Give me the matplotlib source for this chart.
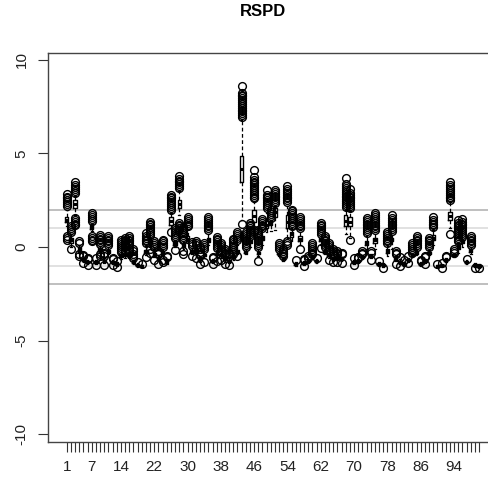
import numpy as np
import matplotlib
matplotlib.use("Agg")
import matplotlib.pyplot as plt

plt.rcParams['font.family'] = ['Liberation Sans', 'DejaVu Sans']

title = "RSPD"
positions = list(range(1, 101))
shown_labels = [1, 7, 14, 22, 30, 38, 46, 54, 62, 70, 78, 86, 94]
ref_lines = [2, 1, -1, -2]
ref_colors = ['#b4b4b4', '#dcdcdc', '#dcdcdc', '#b4b4b4']

# five-number summaries, one entry per box
whislo = [1.1, 0.0, 1.7, -0.3, -0.8, -0.9, 0.85, -0.9, -0.3, -0.85,
          -0.4, -0.9, -1.0, -0.65, -0.6, -0.6, -0.9, -1.05, -1.05, -0.45,
          0.0, -0.55, -0.75, -0.45, -0.9, 1.0, 0.0, 1.7, -0.1, 0.2,
          -0.4, -0.4, -0.8, -0.6, 0.1, -0.85, -0.55, -0.6, -0.8, -0.85,
          -0.7, -0.4, 1.45, -0.4, 0.0, 1.0, -0.5, 0.1, 0.8, 0.85,
          0.9, -0.5, -0.75, 0.5, 0.3, -1.0, 0.1, -0.95, -0.85, -0.65,
          -0.85, 0.1, -0.4, -0.6, -0.75, -0.7, -0.75, 0.7, 0.5, -0.9,
          -0.85, -0.65, -0.1, -0.6, -0.1, -1.0, -1.05, -0.5, -0.1, -0.75,
          -0.9, -1.0, -0.8, -0.55, -0.45, -1.0, -0.85, -0.45, 0.1, -1.1,
          -1.05, -0.8, 1.0, -0.55, -0.3, 0.0, -0.9, -0.35, -1.05, -1.1]

q1 = [1.35, 0.2, 2.1, -0.2, -0.75, -0.85, 0.95, -0.85, -0.2, -0.8,
      -0.3, -0.85, -0.95, -0.55, -0.5, -0.55, -0.85, -1.0, -1.02, -0.3,
      0.15, -0.45, -0.7, -0.35, -0.85, 1.2, 0.1, 2.1, 0.0, 0.3,
      -0.3, -0.3, -0.7, -0.5, 0.25, -0.8, -0.45, -0.5, -0.7, -0.8,
      -0.6, -0.3, 3.45, -0.3, 0.2, 1.35, -0.4, 0.4, 1.0, 1.2,
      1.6, -0.4, -0.7, 1.0, 0.55, -0.95, 0.3, -0.9, -0.8, -0.6,
      -0.8, 0.3, -0.3, -0.5, -0.7, -0.65, -0.7, 1.1, 1.1, -0.85,
      -0.8, -0.6, 0.1, -0.55, 0.2, -0.95, -1.0, -0.3, 0.3, -0.7,
      -0.85, -0.95, -0.75, -0.5, -0.35, -0.95, -0.8, -0.35, 0.37, -1.05,
      -1.0, -0.75, 1.45, -0.5, -0.1, 0.2, -0.85, -0.25, -1.0, -1.05]

med = [1.45, 0.35, 2.3, -0.1, -0.7, -0.8, 1.05, -0.8, -0.12, -0.75,
       -0.22, -0.8, -0.9, -0.45, -0.45, -0.5, -0.8, -0.96, -1.0, -0.22,
       0.25, -0.38, -0.65, -0.3, -0.78, 1.4, 0.2, 2.3, 0.05, 0.45,
       -0.22, -0.22, -0.65, -0.45, 0.35, -0.75, -0.4, -0.45, -0.65, -0.75,
       -0.55, -0.22, 4.15, -0.25, 0.3, 1.65, -0.32, 0.5, 1.2, 1.3,
       1.85, -0.35, -0.65, 1.35, 0.68, -0.9, 0.45, -0.85, -0.75, -0.55,
       -0.75, 0.4, -0.25, -0.45, -0.65, -0.6, -0.65, 1.4, 1.35, -0.8,
       -0.75, -0.55, 0.2, -0.5, 0.35, -0.9, -0.96, -0.2, 0.4, -0.65,
       -0.8, -0.9, -0.7, -0.45, -0.28, -0.9, -0.75, -0.3, 0.5, -1.0,
       -0.98, -0.7, 1.65, -0.45, 0.0, 0.28, -0.8, -0.18, -0.95, -1.0]

q3 = [1.6, 0.5, 2.5, 0.0, -0.65, -0.75, 1.15, -0.75, -0.05, -0.7,
      -0.15, -0.75, -0.85, -0.4, -0.4, -0.45, -0.75, -0.92, -0.97, -0.15,
      0.35, -0.3, -0.6, -0.2, -0.7, 1.6, 0.3, 2.5, 0.15, 0.6,
      -0.15, -0.15, -0.6, -0.4, 0.5, -0.7, -0.35, -0.4, -0.6, -0.7,
      -0.5, -0.15, 4.85, -0.2, 0.4, 2.0, -0.25, 0.6, 1.4, 1.4,
      2.1, -0.3, -0.6, 1.7, 0.8, -0.85, 0.6, -0.8, -0.7, -0.5,
      -0.7, 0.5, -0.2, -0.4, -0.6, -0.55, -0.6, 1.7, 1.6, -0.75,
      -0.7, -0.5, 0.3, -0.45, 0.5, -0.85, -0.92, -0.1, 0.5, -0.6,
      -0.75, -0.85, -0.65, -0.4, -0.2, -0.85, -0.7, -0.25, 0.65, -0.97,
      -0.95, -0.65, 1.87, -0.4, 0.1, 0.35, -0.75, -0.1, -0.9, -0.95]

whishi = [2.0, 0.7, 2.75, 0.1, -0.6, -0.7, 1.25, -0.7, 0.05, -0.6,
          0.0, -0.7, -0.8, -0.35, -0.35, -0.4, -0.7, -0.88, -0.95, 0.05,
          0.5, -0.1, -0.5, -0.1, -0.65, 1.8, 0.4, 3.0, 0.25, 0.9,
          -0.05, -0.05, -0.55, -0.3, 0.7, -0.65, -0.2, -0.3, -0.5, -0.6,
          -0.45, 0.1, 6.8, -0.1, 0.5, 2.4, -0.1, 0.9, 1.8, 1.45,
          2.2, -0.2, -0.55, 2.2, 1.0, -0.8, 0.9, -0.75, -0.65, -0.45,
          -0.65, 0.6, -0.1, -0.3, -0.55, -0.5, -0.55, 2.0, 1.9, -0.7,
          -0.65, -0.45, 0.6, -0.4, 0.8, -0.8, -0.88, 0.05, 0.75, -0.5,
          -0.65, -0.8, -0.6, -0.35, -0.1, -0.8, -0.65, -0.15, 0.9, -0.95,
          -0.9, -0.6, 2.4, -0.35, 0.2, 0.45, -0.7, 0.0, -0.85, -0.9]

fliers = [
    [2.2, 2.3, 2.4, 2.5, 2.6, 2.7, 2.85, 0.6, 0.5, 0.4],
    [0.8, 0.9, 1.0, 1.1, -0.1],
    [2.9, 3.0, 3.1, 3.2, 3.3, 3.45, 1.55, 1.45, 1.35, 1.25, 1.15],
    [0.2, 0.3, -0.4, -0.5],
    [-0.5, -0.45, -0.85],
    [-0.65, -0.6, -0.95],
    [1.4, 1.5, 1.6, 1.7, 1.8, 0.6, 0.5, 0.4, 0.3],
    [-0.6, -0.95],
    [0.15, 0.25, 0.35, 0.45, 0.55, 0.65, -0.4, -0.5],
    [-0.5, -0.4, -0.3, -0.95],
    [0.1, 0.2, 0.3, 0.4, 0.5, 0.6],
    [-0.6, -0.65, -0.95],
    [-0.75, -1.05],
    [-0.25, -0.15, -0.05, 0.05, 0.15, 0.25, 0.35],
    [-0.25, -0.15, 0.0, 0.1, 0.2, 0.3, 0.4, 0.5],
    [-0.3, -0.2, -0.1, 0.1, 0.2, 0.3, 0.4, 0.5, 0.6],
    [-0.6, -0.5, -0.4, -0.2, -0.1],
    [-0.8],
    [-0.9],
    [0.2, 0.3, 0.4, 0.5, 0.6, 0.75, -0.55],
    [0.65, 0.75, 0.85, 0.95, 1.05, 1.15, 1.25, 1.35, -0.1, -0.3],
    [0.0, 0.1, 0.2, 0.3, -0.7],
    [-0.4, -0.3, -0.2, -0.9],
    [0.0, 0.1, 0.2, 0.3, 0.4, -0.7, -0.8],
    [-0.55, -0.5],
    [2.0, 2.1, 2.2, 2.3, 2.4, 2.5, 2.6, 2.7, 2.8, 0.8],
    [0.5, 0.6, 0.7, 0.8, 0.9, 1.0, -0.15],
    [3.15, 3.25, 3.35, 3.45, 3.55, 3.65, 3.8, 1.3, 1.2, 1.1, 1.0, 0.9],
    [0.35, 0.45, 0.55, 0.65, 0.75, 0.85, 0.95, 1.05, -0.2, -0.4],
    [1.1, 1.2, 1.3, 1.4, 1.5, 1.6],
    [0.05, 0.15, 0.25, -0.5],
    [0.1, 0.2, 0.3, -0.6],
    [-0.45, -0.35, -0.25, -0.1, 0.0, -0.9],
    [-0.1, 0.0, 0.1, 0.2, -0.8],
    [0.9, 1.0, 1.1, 1.2, 1.3, 1.4, 1.5, 1.6],
    [-0.6, -0.55, -0.9],
    [-0.05, 0.05, 0.15, 0.25, 0.35, 0.45, 0.55, -0.75],
    [-0.2, -0.1, 0.0, 0.1, 0.2, -0.7],
    [-0.4, -0.3, -0.2, -0.1, -0.9],
    [-0.5, -0.4, -0.3, -0.95],
    [-0.35, -0.25, -0.15, -0.05, 0.05, 0.15, 0.25, 0.35, 0.45],
    [0.4, 0.5, 0.6, 0.7, 0.8, -0.5],
    [6.95, 7.05, 7.15, 7.25, 7.35, 7.45, 7.55, 7.65, 7.75, 7.85, 7.95,
     8.05, 8.15, 8.25, 8.6, 1.25],
    [0.0, 0.1, 0.2, 0.3, 0.4, 0.5, 0.6, 0.7, 0.8],
    [0.6, 0.7, 0.8, 0.9, 1.0, 1.1, 1.2, 1.3],
    [2.6, 2.7, 2.8, 2.9, 3.0, 3.1, 3.2, 3.3, 3.4, 3.5, 3.6, 3.75, 4.1, 0.9, 0.8],
    [0.0, 0.1, 0.2, 0.3, 0.4, 0.5, 0.6, 0.7, 0.8, 0.9, -0.75],
    [1.0, 1.1, 1.2, 1.3, 1.4, 1.5],
    [2.1, 2.2, 2.3, 2.4, 2.5, 2.6, 2.7, 2.8, 3.05],
    [1.55, 1.65, 1.75, 1.85, 2.0],
    [2.35, 2.45, 2.55, 2.65, 2.75, 2.85, 2.95, 3.05],
    [-0.1, 0.0, 0.1, 0.2],
    [-0.5, -0.4, -0.3, -0.2, -0.1],
    [2.4, 2.5, 2.6, 2.7, 2.8, 2.9, 3.0, 3.1, 3.25, 0.3, 0.2, 0.1],
    [1.1, 1.2, 1.3, 1.4, 1.5, 1.6, 1.7, 1.8, 1.9, 2.0],
    [-0.7],
    [1.0, 1.1, 1.2, 1.3, 1.4, 1.5, 1.6, -0.1],
    [-0.7, -0.65, -1.0],
    [-0.6, -0.5],
    [-0.4, -0.3, -0.2, -0.1, 0.0, 0.1, 0.2],
    [-0.6],
    [0.7, 0.8, 0.9, 1.0, 1.1, 1.2, 1.3, -0.05],
    [0.0, 0.1, 0.2, 0.3, 0.4, 0.5, 0.6],
    [-0.2, -0.1, 0.0, 0.1, 0.2, -0.7],
    [-0.45, -0.3, -0.2, -0.1, -0.8],
    [-0.4, -0.3, -0.2, -0.8],
    [-0.4, -0.3, -0.85],
    [2.15, 2.25, 2.35, 2.45, 2.55, 2.65, 2.75, 2.85, 2.95, 3.05, 3.15, 3.25,
     3.35, 3.7],
    [2.1, 2.2, 2.3, 2.4, 2.5, 2.6, 2.7, 2.8, 2.9, 3.1, 0.37],
    [-0.6, -0.95],
    [-0.6, -0.55],
    [-0.35, -0.3, -0.2],
    [0.75, 0.85, 0.95, 1.05, 1.15, 1.25, 1.35, 1.45, 1.55],
    [-0.3, -0.2, -0.7],
    [0.9, 1.0, 1.1, 1.2, 1.3, 1.4, 1.5, 1.6, 1.7, 1.8],
    [-0.75],
    [-1.1],
    [0.2, 0.3, 0.4, 0.5, 0.6, 0.7, 0.8],
    [0.85, 0.95, 1.05, 1.15, 1.25, 1.35, 1.45, 1.55, 1.7],
    [-0.4, -0.3, -0.2, -0.9],
    [-0.55, -1.0],
    [-0.7],
    [-0.5, -0.85],
    [-0.3, -0.2, -0.1, 0.0, 0.1, 0.2],
    [0.0, 0.1, 0.2, 0.3, 0.4, 0.5, 0.6],
    [-0.7, -0.75],
    [-0.5, -0.55, -0.9],
    [0.0, 0.1, 0.2, 0.3, 0.4, 0.5],
    [1.05, 1.15, 1.25, 1.35, 1.45, 1.6],
    [-0.9],
    [-1.1, -0.85],
    [-0.5, -0.55],
    [2.5, 2.6, 2.7, 2.8, 2.9, 3.0, 3.1, 3.2, 3.3, 3.5, 0.7],
    [-0.3, -0.2, -0.1],
    [0.3, 0.4, 0.5, 0.6, 0.7, 0.8, 0.9, 1.0, 1.1, 1.2, 1.3, 1.45],
    [0.55, 0.65, 0.75, 0.85, 0.95, 1.05, 1.15, 1.25, 1.35, 1.5],
    [-0.65],
    [0.1, 0.2, 0.3, 0.4, 0.5, 0.6],
    [-1.1],
    [-1.12],
]

stats = []
for i in range(len(positions)):
    stats.append(dict(med=med[i], q1=q1[i], q3=q3[i],
                      whislo=whislo[i], whishi=whishi[i], fliers=fliers[i]))

fig = plt.figure(figsize=(4.88, 4.84), dpi=100)
# plot region runs past the right edge of the picture, as in the original
ax = fig.add_axes([48 / 488, 1 - 441.5 / 484, 449.8 / 488, 389 / 484])

for y, c in zip(ref_lines, ref_colors):
    ax.axhline(y, color=c, lw=1.2, zorder=0.5)

ax.bxp(stats, positions=positions, widths=0.8, capwidths=0.4,
       boxprops=dict(color='black', lw=1.0),
       medianprops=dict(color='black', lw=2.2),
       whiskerprops=dict(color='black', lw=0.9, linestyle=(0, (3, 2))),
       capprops=dict(color='black', lw=0.9),
       flierprops=dict(marker='o', markerfacecolor='none', markeredgecolor='black',
                       markersize=5.6, markeredgewidth=1.0))

ax.set_xlim(-3.5, 104.5)
ax.set_ylim(-10.4, 10.4)

ax.set_xticks(positions)
ax.set_xticklabels([str(p) if p in shown_labels else '' for p in positions])
ax.set_yticks([-10, -5, 0, 5, 10])
ax.set_yticklabels(['-10', '-5', '0', '5', '10'], rotation=90, va='center')

ax.tick_params(axis='both', direction='out', length=7, width=0.8,
               color='#333333', labelsize=11, labelcolor='#222222')
ax.tick_params(axis='x', pad=6)
ax.tick_params(axis='y', pad=7)

for s in ax.spines.values():
    s.set_color('#444444')
    s.set_linewidth(1.0)

fig.text(263 / 488, 1 - 12 / 484, title, ha='center', va='center',
         fontsize=12, fontweight='bold')

fig.savefig('out.png', dpi=100)
